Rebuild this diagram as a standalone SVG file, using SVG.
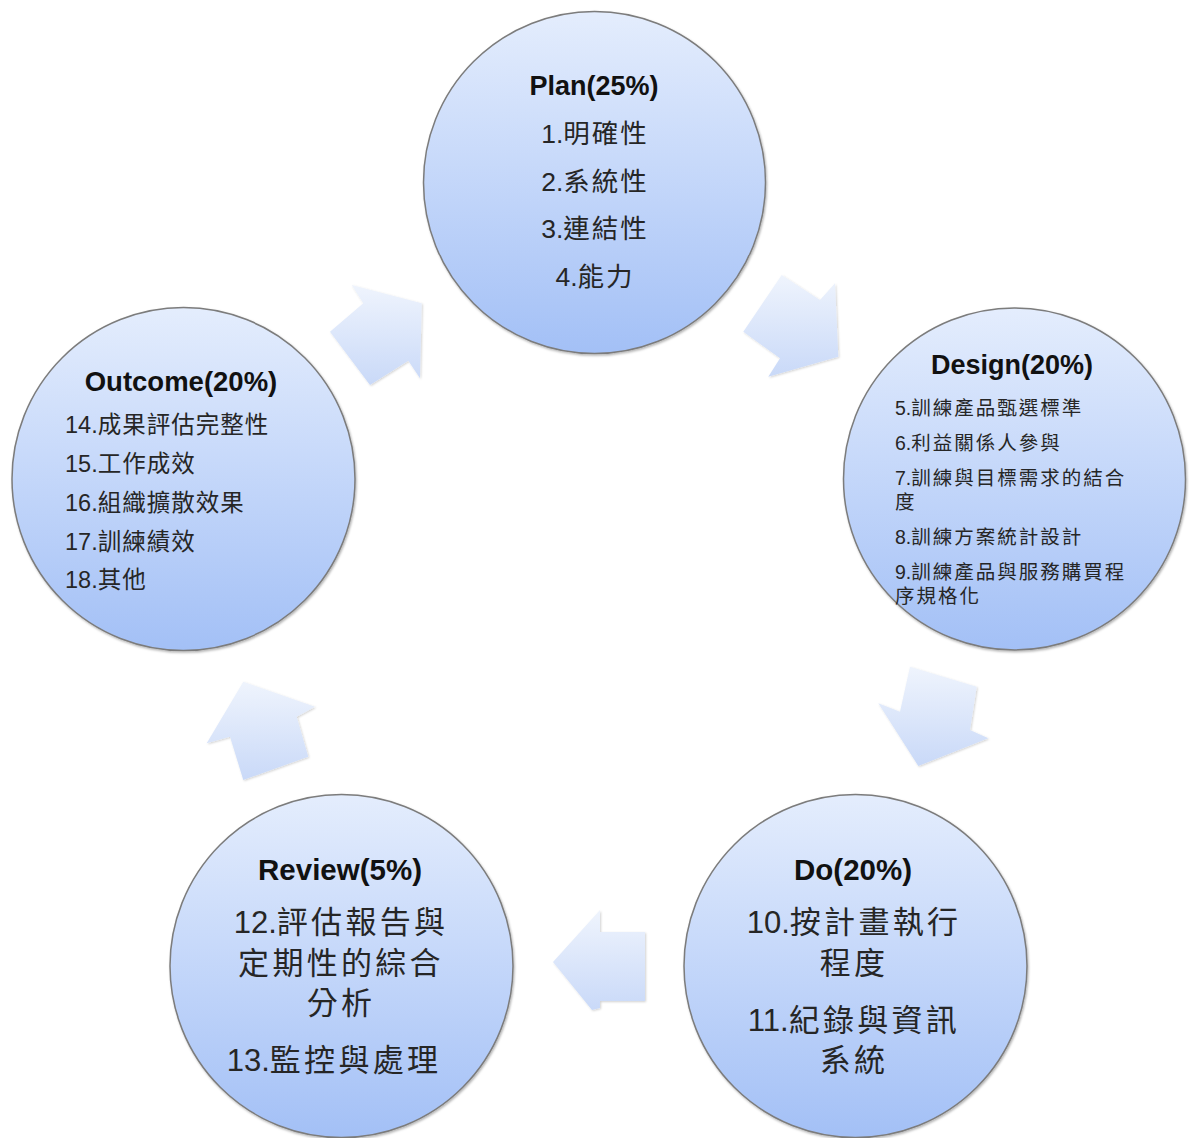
<svg xmlns="http://www.w3.org/2000/svg" width="1189" height="1138" viewBox="0 0 1189 1138">
  <defs>
    <linearGradient id="circleFill" x1="0" y1="0" x2="0" y2="1">
      <stop offset="0" stop-color="#e4edfd"/>
      <stop offset="1" stop-color="#a3c0f6"/>
    </linearGradient>
    <linearGradient id="arrowFill" x1="0" y1="0" x2="0" y2="1">
      <stop offset="0" stop-color="#eff4fd"/>
      <stop offset="1" stop-color="#c9d9f8"/>
    </linearGradient>
    <filter id="shadow" x="-10%" y="-10%" width="120%" height="120%">
      <feDropShadow dx="1" dy="1.5" stdDeviation="1.2" flood-color="#000" flood-opacity="0.3"/>
    </filter>
    <filter id="ashadow" x="-10%" y="-10%" width="125%" height="125%">
      <feDropShadow dx="1" dy="1" stdDeviation="0.8" flood-color="#000" flood-opacity="0.18"/>
    </filter>
  </defs>
  <style>
    .node { fill: url(#circleFill); stroke: #7c7c7c; stroke-width: 1.5; filter: url(#shadow); }
    .arrow { fill: url(#arrowFill); filter: url(#ashadow); }
    .title { font-family: "Liberation Sans", "Noto Sans CJK TC", sans-serif; font-weight: bold; fill: #111; dominant-baseline: central; }
    .item { font-family: "Liberation Sans", "Noto Sans CJK TC", sans-serif; fill: #262626; dominant-baseline: central; }
    .c { text-anchor: middle; }
    .p .k { letter-spacing: 2px; }
    .d .k { letter-spacing: 2px; }
    .o .k { letter-spacing: 1px; }
    .r .k { letter-spacing: 3.3px; }
  </style>
  <rect width="1189" height="1138" fill="#ffffff"/>

  <g id="connectors">
    <polygon class="arrow" points="351.7,285 421.7,303.3 420,378.3 408.3,360.7 370,385 330,331.7 363.3,303.3"/>
    <polygon class="arrow" points="781.7,275 820,300 835,283.3 838.3,356.7 768.3,376.7 780,358.3 743.3,331.7"/>
    <polygon class="arrow" points="910,666.7 976.7,686.7 970,730 988.3,738.3 918.3,766 878.3,703.3 900,711.7"/>
    <polygon class="arrow" points="553,962 600,910 600,932 645,932 645,1001 600,1001 600,1008 592,1010"/>
    <polygon class="arrow" points="243.3,681.7 315,706.7 296.7,716.7 308.3,756.7 243.3,780 230,736.7 206.7,743.3"/>
  </g>

  <g id="plan" class="p">
    <circle class="node" cx="594.5" cy="182.5" r="171"/>
    <text class="title c" x="594" y="86" font-size="27">Plan(25%)</text>
    <text class="item c" x="595" y="134" font-size="26.5">1.<tspan class="k">明確性</tspan></text>
    <text class="item c" x="595" y="182" font-size="26.5">2.<tspan class="k">系統性</tspan></text>
    <text class="item c" x="595" y="229" font-size="26.5">3.<tspan class="k">連結性</tspan></text>
    <text class="item c" x="595" y="277" font-size="26.5">4.<tspan class="k">能力</tspan></text>
  </g>

  <g id="design" class="d">
    <circle class="node" cx="1014.5" cy="479" r="171"/>
    <text class="title c" x="1012" y="365" font-size="27">Design(20%)</text>
    <text class="item" x="895" y="408" font-size="19.5">5.<tspan class="k">訓練產品甄選標準</tspan></text>
    <text class="item" x="895" y="443" font-size="19.5">6.<tspan class="k">利益關係人參與</tspan></text>
    <text class="item" x="895" y="478" font-size="19.5">7.<tspan class="k">訓練與目標需求的結合</tspan></text>
    <text class="item" x="895" y="502" font-size="19.5"><tspan class="k">度</tspan></text>
    <text class="item" x="895" y="537" font-size="19.5">8.<tspan class="k">訓練方案統計設計</tspan></text>
    <text class="item" x="895" y="572" font-size="19.5">9.<tspan class="k">訓練產品與服務購買程</tspan></text>
    <text class="item" x="895" y="596" font-size="19.5"><tspan class="k">序規格化</tspan></text>
  </g>

  <g id="do" class="r">
    <circle class="node" cx="855.5" cy="966" r="171.5"/>
    <text class="title c" x="853" y="869" font-size="29.5">Do(20%)</text>
    <text class="item c" x="854" y="922" font-size="31">10.<tspan class="k">按計畫執行</tspan></text>
    <text class="item c" x="854" y="963" font-size="31"><tspan class="k">程度</tspan></text>
    <text class="item c" x="854" y="1020" font-size="31">11.<tspan class="k">紀錄與資訊</tspan></text>
    <text class="item c" x="854" y="1060" font-size="31"><tspan class="k">系統</tspan></text>
  </g>

  <g id="review" class="r">
    <circle class="node" cx="341.5" cy="966" r="171.5"/>
    <text class="title c" x="340" y="869" font-size="29.5">Review(5%)</text>
    <text class="item c" x="341" y="922" font-size="31">12.<tspan class="k">評估報告與</tspan></text>
    <text class="item c" x="341" y="963" font-size="31"><tspan class="k">定期性的綜合</tspan></text>
    <text class="item c" x="341" y="1003" font-size="31"><tspan class="k">分析</tspan></text>
    <text class="item c" x="334" y="1060" font-size="31">13.<tspan class="k">監控與處理</tspan></text>
  </g>

  <g id="outcome" class="o">
    <circle class="node" cx="183.5" cy="479" r="171.5"/>
    <text class="title c" x="181" y="381" font-size="27.5">Outcome(20%)</text>
    <text class="item" x="65" y="425" font-size="23.5">14.<tspan class="k">成果評估完整性</tspan></text>
    <text class="item" x="65" y="464" font-size="23.5">15.<tspan class="k">工作成效</tspan></text>
    <text class="item" x="65" y="503" font-size="23.5">16.<tspan class="k">組織擴散效果</tspan></text>
    <text class="item" x="65" y="542" font-size="23.5">17.<tspan class="k">訓練績效</tspan></text>
    <text class="item" x="65" y="580" font-size="23.5">18.<tspan class="k">其他</tspan></text>
  </g>
</svg>
